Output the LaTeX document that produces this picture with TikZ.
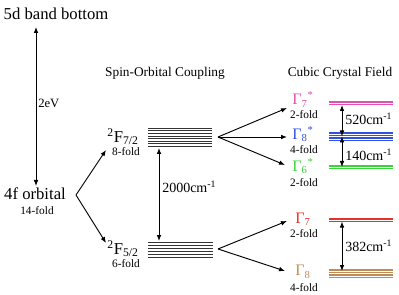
\documentclass[tikz,border=0pt]{standalone}
\usepackage{fontspec}
\setmainfont{Liberation Serif}
\usetikzlibrary{arrows.meta}
\definecolor{cmag}{RGB}{226,80,180}
\definecolor{cblue}{RGB}{50,80,230}
\definecolor{cgreen}{RGB}{60,210,60}
\definecolor{cred}{RGB}{230,50,40}
\definecolor{ctan}{RGB}{190,140,90}
\begin{document}
\begin{tikzpicture}[x=0.75pt,y=-0.75pt,
 arr/.style={-{Latex[length=4.5pt,width=3.5pt]}, line width=0.7pt},
 darr/.style={{Latex[length=4.5pt,width=3.5pt]}-{Latex[length=4.5pt,width=3.5pt]}, line width=0.7pt},
 big/.style={font=\fontsize{12.5}{14}\selectfont, inner sep=0pt},
 head/.style={font=\fontsize{10}{12}\selectfont, inner sep=0pt},
 fold/.style={font=\fontsize{8.5}{10}\selectfont, inner sep=0pt},
 gam/.style={font=\fontsize{12}{14}\selectfont, inner sep=0pt},
 lab/.style={font=\fontsize{10.5}{12}\selectfont, inner sep=0pt, anchor=west},
 stk/.style={line width=0.65pt, black!80},
 lev/.style={line width=0.85pt}]
\useasboundingbox (0,0) rectangle (399,295);

% left column
\node[big] (d5) at (56,14) {5d band bottom};
\node[big] (f4) at (35,194) {4f orbital};
\node[fold] (f4f) at (37,211) {14-fold};
\coordinate (eTop) at (36,27);
\coordinate (eBot) at (36,186);
\draw[darr] (eTop) -- (eBot);
\node[font=\fontsize{9.5}{11}\selectfont, inner sep=0pt, anchor=west] (ev) at (38,103) {2eV};

% bracket 4f -> SO
\coordinate (v1) at (76,195);
\coordinate (tA) at (106,150);
\coordinate (tB) at (106,243);
\draw[arr] (v1) -- (tA);
\draw[arr] (v1) -- (tB);

% headers
\node[head] (hso) at (165,73) {Spin-Orbital Coupling};
\node[head] (hcf) at (340,73) {Cubic Crystal Field};

% SO labels
\node[gam, font=\fontsize{12.5}{14}\selectfont] (f72) at (123,137) {\textsuperscript{2}F\textsubscript{7/2}};
\node[fold] (f72f) at (126,152) {8-fold};
\node[gam, font=\fontsize{12.5}{14}\selectfont] (f52) at (123,249) {\textsuperscript{2}F\textsubscript{5/2}};
\node[fold] (f52f) at (126,264) {6-fold};

% SO stacks
\foreach \i in {0,...,7} \draw[stk] (148,128+2.65*\i) -- (212,128+2.65*\i);
\foreach \i in {0,...,5} \draw[stk] (148,242+3*\i) -- (213,242+3*\i);

\coordinate (sA) at (159,148);
\coordinate (sB) at (159,241);
\draw[darr] (sA) -- (sB);
\node[lab] (l2000) at (162,187) {2000cm\textsuperscript{-1}};

% brackets to crystal field
\coordinate (v2) at (218,137);
\coordinate (g7s) at (287,108);
\coordinate (g8s) at (287,137);
\coordinate (g6s) at (285,165);
\draw[arr] (v2) -- (g7s);
\draw[arr] (v2) -- (g8s);
\draw[arr] (v2) -- (g6s);
\coordinate (v3) at (218,249);
\coordinate (g7) at (287,221);
\coordinate (g8) at (285,271);
\draw[arr] (v3) -- (g7);
\draw[arr] (v3) -- (g8);

% Gamma labels
\node[gam, text=cmag] (G7s) at (303,99.5) {Γ\textsubscript{7}\textsuperscript{*}};
\node[fold] (G7sf) at (304,115) {2-fold};
\node[gam, text=cblue] (G8s) at (303,134) {Γ\textsubscript{8}\textsuperscript{*}};
\node[fold] (G8sf) at (304,149.5) {4-fold};
\node[gam, text=cgreen] (G6s) at (303,166) {Γ\textsubscript{6}\textsuperscript{*}};
\node[fold] (G6sf) at (304,183) {2-fold};
\node[gam, text=cred] (G7) at (303,219.5) {Γ\textsubscript{7}};
\node[fold] (G7f) at (304,234) {2-fold};
\node[gam, text=ctan] (G8) at (303,272) {Γ\textsubscript{8}};
\node[fold] (G8f) at (304,288) {4-fold};

% CF levels
\foreach \y in {102,104.6} \draw[lev, cmag] (329,\y) -- (393,\y);
\foreach \y in {133,135.5,138,140.5} \draw[lev, cblue] (329,\y) -- (393,\y);
\foreach \y in {166,168.5} \draw[lev, cgreen] (329,\y) -- (393,\y);
\foreach \y in {219,221.5} \draw[lev, cred] (329,\y) -- (393,\y);
\foreach \y in {270,272.5,275,277.5} \draw[lev, ctan] (329,\y) -- (393,\y);

\coordinate (c1) at (342,105);
\coordinate (c2) at (342,136.5);
\coordinate (c3) at (342,167);
\draw[darr] (c1) -- (c2);
\draw[darr] (c2) -- (c3);
\node[lab] (l520) at (345,119) {520cm\textsuperscript{-1}};
\node[lab] (l140) at (345,155) {140cm\textsuperscript{-1}};
\coordinate (c4) at (342,221.5);
\coordinate (c5) at (342,271);
\draw[darr] (c4) -- (c5);
\node[lab] (l382) at (345,246) {382cm\textsuperscript{-1}};
\end{tikzpicture}
\end{document}
